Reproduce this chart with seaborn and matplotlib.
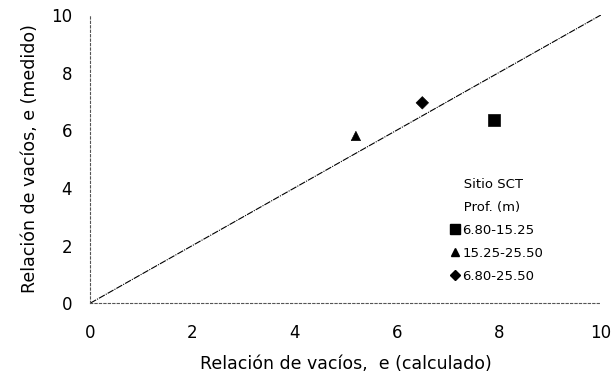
import numpy as np
import pandas as pd
import matplotlib.pyplot as plt
import seaborn as sns
from matplotlib.lines import Line2D

# depth ranges (m) and void ratios
profundidad = ["6.80-15.25", "15.25-25.50", "6.80-25.50"]
e_calculado = [7.9, 5.2, 6.5]
e_medido = [6.35, 5.8, 6.95]
linea_x = [0, 10]
linea_y = [0, 10]
ticks = [0, 2, 4, 6, 8, 10]

df = pd.DataFrame({"calc": e_calculado, "med": e_medido, "prof": profundidad})

sns.set_style("white")
plt.rcParams['font.family'] = ['DejaVu Sans']
plt.rcParams['text.color'] = 'black'
plt.rcParams['axes.labelcolor'] = 'black'
plt.rcParams['xtick.color'] = 'black'
plt.rcParams['ytick.color'] = 'black'

fig = plt.figure(figsize=(6.14, 3.72), dpi=100)
ax = fig.add_axes([0.147, 0.185, 0.832, 0.775])

ax.plot(linea_x, linea_y, color="black", lw=0.8, ls=(0, (6, 1, 1, 1)))

sns.scatterplot(data=df, x="calc", y="med", style="prof", markers=["s", "^", "D"],
                color="black", edgecolor="black", legend=False, ax=ax)
ax.collections[-1].set_sizes([70, 45, 40])

ax.set_xlim(0, 10)
ax.set_ylim(0, 10)
ax.set_xticks(ticks)
ax.set_yticks(ticks)
ax.tick_params(axis="x", labelsize=12, length=0, pad=15)
ax.tick_params(axis="y", labelsize=12, length=0, pad=13)

for side in ["top", "right"]:
    ax.spines[side].set_visible(False)
for side in ["left", "bottom"]:
    ax.spines[side].set_linestyle((0, (2, 2)))
    ax.spines[side].set_color("#555555")
    ax.spines[side].set_linewidth(0.8)

ax.set_xlabel("Relación de vacíos,  e (calculado)", fontsize=12.5, labelpad=9)
ax.set_ylabel("Relación de vacíos, e (medido)", fontsize=12.5, labelpad=9)

handles = [Line2D([], [], marker=m, color="black", ls="none", markersize=ms)
           for m, ms in zip(["s", "^", "D"], [7.5, 6, 5])]
leg = ax.legend(handles, profundidad, title="   Sitio SCT\n   Prof. (m)", loc="upper left",
                bbox_to_anchor=(0.695, 0.453), frameon=False, fontsize=9.5,
                title_fontsize=9.5, handlelength=0.6, handletextpad=0.3,
                labelspacing=0.75, borderaxespad=0)
leg._legend_box.align = "left"
leg.get_title().set_linespacing(2.0)

fig.savefig("out.png", dpi=100)
